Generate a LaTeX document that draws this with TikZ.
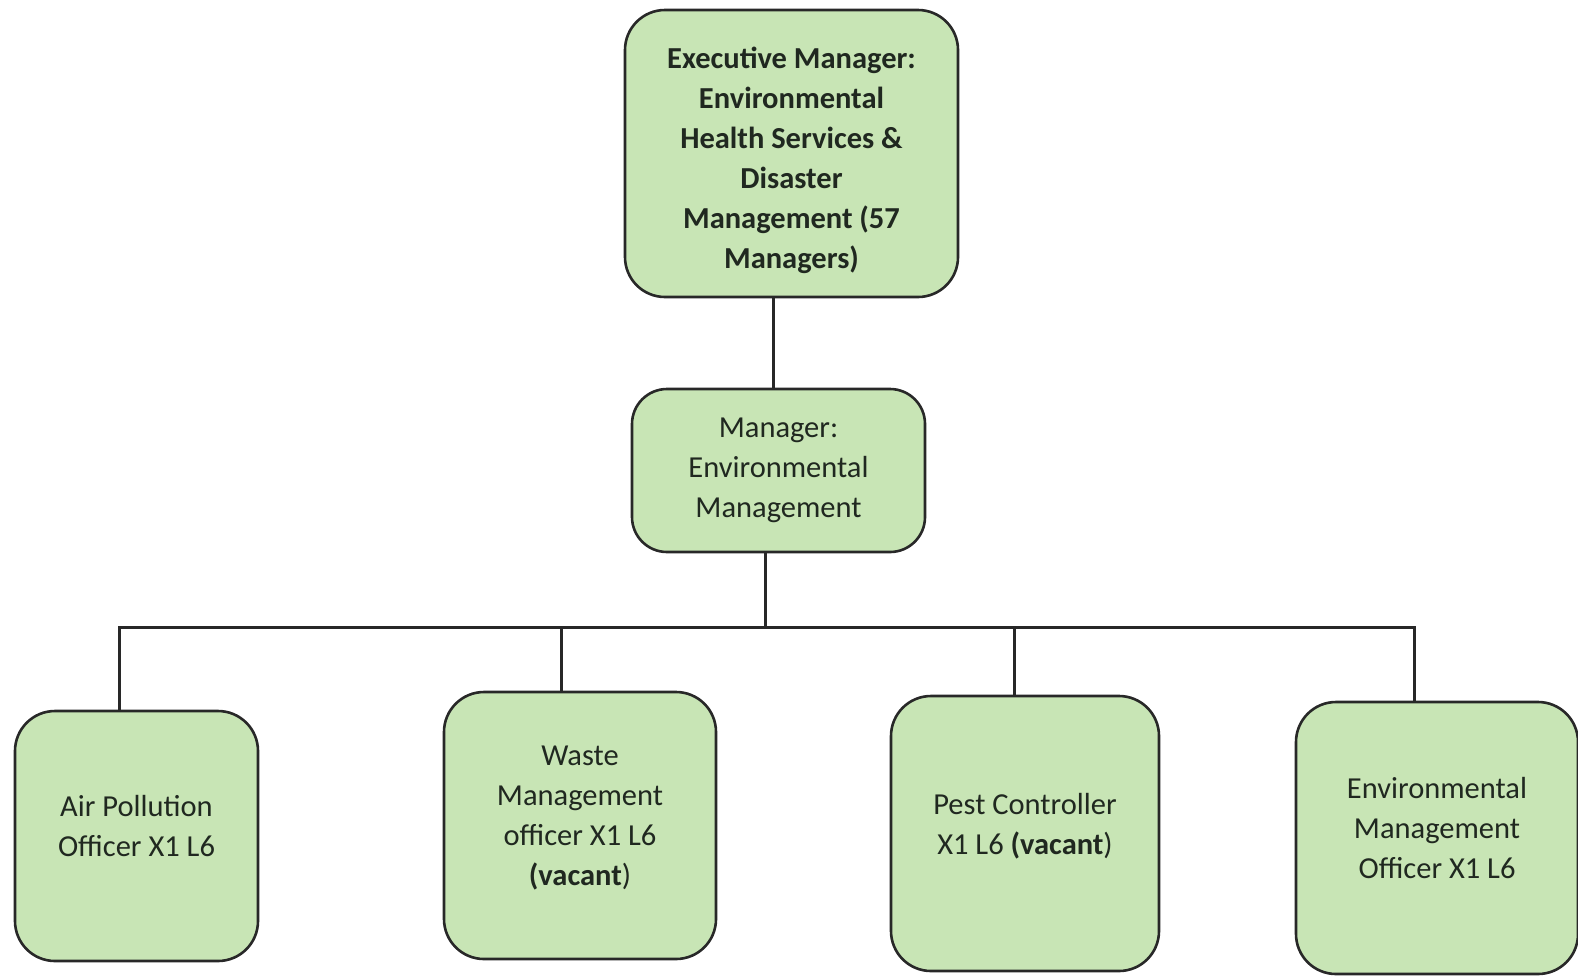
\documentclass[tikz,border=0pt]{standalone}
\usepackage{fontspec}
\setmainfont{Carlito}
\definecolor{boxfill}{RGB}{200,229,181}
\definecolor{boxline}{RGB}{40,40,40}
\definecolor{ink}{RGB}{32,40,32}
\begin{document}
\begin{tikzpicture}[x=1pt,y=-1pt,
  orgbox/.style={draw=boxline, line width=2.6pt, fill=boxfill, rounded corners=40pt,
    align=center, text=ink, inner sep=0pt, font=\fontsize{30.5}{40}\selectfont},
  link/.style={draw=boxline, line width=3pt}]
\useasboundingbox (0,0) rectangle (1578,975);

% top level
\node[orgbox, minimum width=333pt, minimum height=287pt] (exec) at (791.5,153.5)
  {\rule{0pt}{35pt}\bfseries Executive Manager:\\ \bfseries Environmental\\ \bfseries Health Services \&\\ \bfseries Disaster\\ \bfseries Management (57\\ \bfseries Managers)};

% second level
\node[orgbox, rounded corners=35pt, minimum width=293pt, minimum height=163pt] (mgr) at (778.5,470.5)
  {Manager:\\ Environmental\\ Management};

% officers
\node[orgbox, minimum width=243pt, minimum height=250pt] (air) at (136.5,836)
  {Air Pollution\\ Officer X1 L6\rule[-20pt]{0pt}{0pt}};
\node[orgbox, minimum width=272pt, minimum height=267pt] (waste) at (580,825.5)
  {Waste\\ Management\\ officer X1 L6\\ \textbf{(vacant})\rule[-20pt]{0pt}{0pt}};
\node[orgbox, minimum width=268pt, minimum height=275pt] (pest) at (1025,833.5)
  {Pest Controller\\ X1 L6 \textbf{(vacant})\rule[-20pt]{0pt}{0pt}};
\node[orgbox, minimum width=282pt, minimum height=272pt] (envo) at (1437,838)
  {Environmental\\ Management\\ Officer X1 L6\rule[-20pt]{0pt}{0pt}};

% connectors
\coordinate (bus) at (765,627);
\draw[link] ([xshift=-18pt]exec.south) -- ([xshift=-18pt]exec.south |- mgr.north);
\draw[link] ([xshift=-13.5pt]mgr.south) -- (bus);
\draw[link] ([xshift=-17.5pt]air.north) |- (bus) -| ([xshift=-23pt]envo.north);
\draw[link] ([xshift=-19pt]waste.north) -- ([xshift=-19pt]waste.north |- bus);
\draw[link] ([xshift=-11pt]pest.north) -- ([xshift=-11pt]pest.north |- bus);
\end{tikzpicture}
\end{document}
